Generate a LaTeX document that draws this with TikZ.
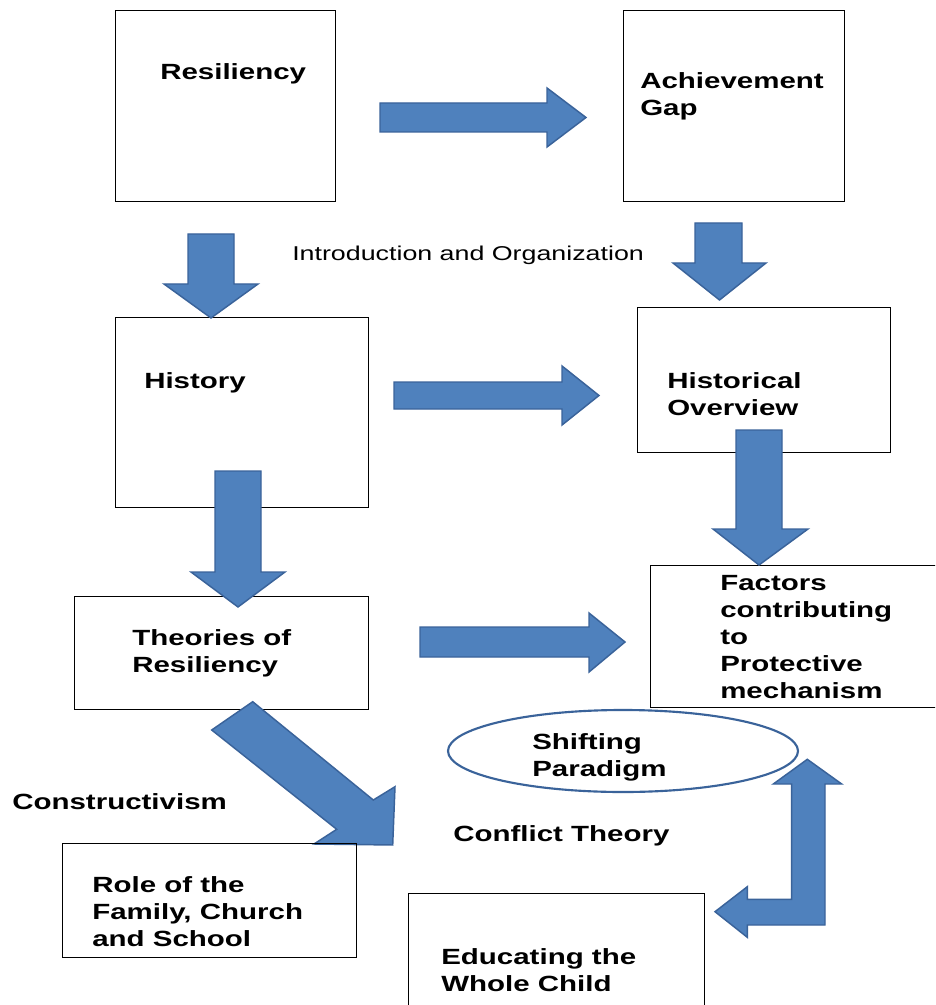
\documentclass[tikz,border=0pt]{standalone}
\usepackage{fontspec}
\setmainfont{Liberation Sans}[FakeStretch=1.34]
\usetikzlibrary{shapes.geometric}
\definecolor{afill}{HTML}{4F81BD}
\definecolor{aline}{HTML}{3A639A}
\tikzset{
  box/.style={draw=black, line width=1.1pt, fill=none},
  barrow/.style={fill=afill, draw=aline, line width=1.1pt, line join=miter},
  lbl/.style={font=\bfseries\fontsize{16.5}{20.25}\selectfont, inner sep=0pt, align=left, anchor=base west},
  thin lbl/.style={font=\fontsize{15}{18}\selectfont, inner sep=0pt, anchor=base west}
}
\begin{document}
\begin{tikzpicture}[x=0.75pt,y=-0.75pt]
\useasboundingbox (0,0) rectangle (935,1005);
\clip (0,0) rectangle (935,1005);
% boxes
\node[box, minimum width=220*0.75pt, minimum height=191*0.75pt, inner sep=0pt, anchor=north west] (res) at (115,10) {};
\node[box, minimum width=221*0.75pt, minimum height=191*0.75pt, inner sep=0pt, anchor=north west] (ach) at (623,10) {};
\node[box, minimum width=253*0.75pt, minimum height=190*0.75pt, inner sep=0pt, anchor=north west] (hist) at (115,317) {};
\node[box, minimum width=253*0.75pt, minimum height=145*0.75pt, inner sep=0pt, anchor=north west] (hov) at (637,307) {};
\node[box, minimum width=294*0.75pt, minimum height=113*0.75pt, inner sep=0pt, anchor=north west] (theo) at (74,596) {};
\node[box, minimum width=295*0.75pt, minimum height=142*0.75pt, inner sep=0pt, anchor=north west] (fac) at (650,565) {};
\node[box, minimum width=296*0.75pt, minimum height=122*0.75pt, inner sep=0pt, anchor=north west] (edu) at (408,893) {};
% ellipse
\node[ellipse, draw=aline, line width=1.6pt, minimum width=350*0.75pt, minimum height=82*0.75pt, inner sep=0pt] (shift) at (623,751) {};
% block arrows
\draw[barrow] (380,103) -- (547,103) -- (547,88) -- (586,117.5) -- (547,147) -- (547,132) -- (380,132) -- cycle;
\draw[barrow] (188,234) -- (234,234) -- (234,284) -- (258,284) -- (211,318) -- (164,284) -- (188,284) -- cycle;
\draw[barrow] (695,223) -- (742,223) -- (742,263) -- (766,263) -- (719.5,300) -- (673,263) -- (695,263) -- cycle;
\draw[barrow] (394,382) -- (562,382) -- (562,366) -- (599,395.5) -- (562,425) -- (562,409) -- (394,409) -- cycle;
\draw[barrow] (215,471) -- (261,471) -- (261,572) -- (285,572) -- (238,607) -- (191,572) -- (215,572) -- cycle;
\draw[barrow] (736,430) -- (782,430) -- (782,529) -- (808,529) -- (759,565) -- (713,529) -- (736,529) -- cycle;
\draw[barrow] (420,627) -- (589,627) -- (589,613) -- (625,642) -- (589,672) -- (589,657) -- (420,657) -- cycle;
\draw[barrow] (252.7,701.7) -- (373.3,800) -- (395,786.7) -- (392.7,845) -- (314,844) -- (336.7,829.3) -- (211.7,730) -- cycle;
\draw[barrow] (807.3,759.3) -- (841.7,784) -- (825,784) -- (825,925) -- (747.3,925) -- (747.3,937.3) -- (715,911.7) -- (747.3,886.7) -- (747.3,899.3) -- (791.7,899.3) -- (791.7,784) -- (773.3,784) -- cycle;
\node[box, minimum width=294*0.75pt, minimum height=114*0.75pt, inner sep=0pt, anchor=north west] (role) at (62,843) {};
% labels
\node[lbl] (t-res) at (160,80) {Resiliency};
\node[lbl] (t-ach) at (640,116) {Achievement\\Gap};
\node[thin lbl] (t-intro) at (292,261) {Introduction and Organization};
\node[lbl] (t-hist) at (144,388) {History};
\node[lbl] (t-hov) at (667,415) {Historical\\Overview};
\node[lbl] (t-theo) at (132,672) {Theories of\\Resiliency};
\node[lbl] (t-fac) at (720,698) {Factors\\contributing\\to\\Protective\\mechanism};
\node[lbl] (t-shift) at (532,776) {Shifting\\Paradigm};
\node[lbl] (t-cons) at (12,809) {Constructivism};
\node[lbl] (t-conf) at (453,841) {Conflict Theory};
\node[lbl] (t-role) at (92,946) {Role of the\\Family, Church\\and School};
\node[lbl] (t-edu) at (441,991) {Educating the\\Whole Child};
\end{tikzpicture}
\end{document}
